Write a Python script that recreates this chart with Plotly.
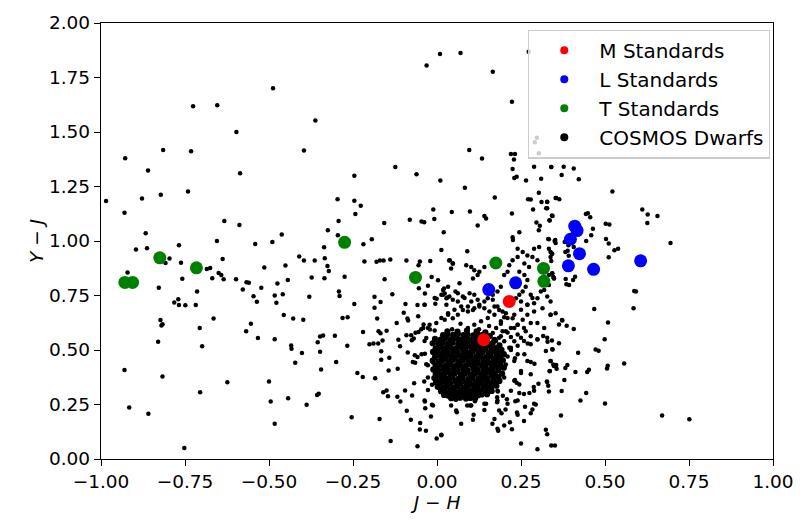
import plotly.graph_objects as go

# ---------------- data ----------------
m_x = [0.215, 0.139]
m_y = [0.723, 0.547]

l_x = [0.154, 0.234, 0.410, 0.417, 0.397, 0.424, 0.391, 0.466, 0.606]
l_y = [0.777, 0.808, 1.068, 1.048, 1.008, 0.942, 0.886, 0.870, 0.909]

t_x = [-0.929, -0.906, -0.825, -0.716, -0.275, -0.064, 0.175, 0.317, 0.318]
t_y = [0.810, 0.810, 0.923, 0.877, 0.994, 0.833, 0.899, 0.874, 0.815]

# COSMOS dwarfs, sparse field (x = J-H, y = Y-J)
cosmos_outer = [
    (-0.488, 1.701), (-0.726, 1.618), (-0.654, 1.623), (-0.597, 1.5), (-0.362, 1.553),
    (-0.928, 1.38), (-0.815, 1.418), (-0.732, 1.412), (-0.396, 1.415), (-0.86, 1.323),
    (-0.586, 1.311), (-0.985, 1.183), (-0.878, 1.195), (-0.822, 1.212), (-0.741, 1.227),
    (-0.93, 1.13), (-0.633, 1.092), (-0.588, 1.073), (-0.867, 1.035), (-0.462, 1.03),
    (-0.325, 1.049), (-0.655, 1.0), (-0.49, 0.995),
    (-0.896, 0.961), (-0.863, 0.967), (-0.768, 0.98), (-0.541, 0.986), (-0.336, 0.971),
    (-0.796, 0.92), (-0.808, 0.899), (-0.762, 0.9), (-0.638, 0.918), (-0.921, 0.856),
    (-0.758, 0.827), (-0.685, 0.871), (-0.675, 0.876), (-0.65, 0.853), (-0.642, 0.844),
    (-0.669, 0.829), (-0.635, 0.824), (-0.598, 0.824), (-0.514, 0.879), (-0.451, 0.888),
    (-0.41, 0.929), (-0.396, 0.911), (-0.364, 0.911), (-0.334, 0.921), (-0.326, 0.885),
    (-0.322, 0.862), (-0.373, 0.833), (-0.335, 0.829), (-0.444, 0.821), (-0.567, 0.811),
    (-0.56, 0.809), (-0.475, 0.805), (-0.828, 0.785), (-0.578, 0.777), (-0.523, 0.785),
    (-0.714, 0.768), (-0.546, 0.747), (-0.536, 0.721), (-0.483, 0.75), (-0.459, 0.756),
    (-0.478, 0.717), (-0.38, 0.744), (-0.782, 0.718), (-0.77, 0.733), (-0.768, 0.706),
    (-0.749, 0.705), (-0.718, 0.706), (-0.823, 0.638), (-0.817, 0.618), (-0.82, 0.612),
    (-0.665, 0.644), (-0.706, 0.601), (-0.699, 0.517), (-0.83, 0.538), (-0.568, 0.586),
    (-0.554, 0.62), (-0.533, 0.555), (-0.483, 0.549), (-0.456, 0.661), (-0.428, 0.645),
    (-0.398, 0.639), (-0.434, 0.521), (-0.433, 0.506), (-0.402, 0.486), (-0.422, 0.442),
    (-0.355, 0.535), (-0.348, 0.562), (-0.339, 0.567), (-0.348, 0.492), (-0.345, 0.411),
    (-0.93, 0.408), (-0.817, 0.379), (-0.624, 0.352), (-0.5, 0.355), (-0.705, 0.306),
    (-0.495, 0.264), (-0.443, 0.279), (-0.388, 0.249), (-0.357, 0.294), (-0.352, 0.299),
    (-0.916, 0.236), (-0.859, 0.208), (-0.483, 0.162), (-0.752, 0.05),
    (0.009, 1.858), (0.07, 1.862), (-0.031, 1.805), (0.166, 1.776), (0.223, 1.639),
    (0.273, 1.868), (0.297, 1.474), (0.291, 1.453), (0.303, 1.403),
    (0.096, 1.418), (0.134, 1.379), (-0.124, 1.34), (-0.246, 1.299), (-0.061, 1.306),
    (0.01, 1.277), (0.083, 1.244), (0.172, 1.2), (0.22, 1.399), (0.232, 1.399),
    (0.229, 1.374), (0.225, 1.33), (0.23, 1.289), (0.237, 1.295), (0.265, 1.277),
    (0.289, 1.341), (0.34, 1.34), (0.31, 1.286), (0.303, 1.221), (0.271, 1.192),
    (0.279, 1.19), (0.311, 1.179), (0.328, 1.179), (0.353, 1.197), (0.286, 1.144),
    (0.325, 1.15), (0.344, 1.115), (0.335, 1.095), (0.296, 1.085), (0.306, 1.07),
    (0.303, 1.049), (0.223, 1.126), (0.245, 1.04), (0.225, 1.017), (0.226, 1.005),
    (0.331, 1.009), (0.352, 1.005), (-0.296, 1.192), (-0.246, 1.185), (-0.227, 1.162),
    (-0.243, 1.124), (-0.293, 1.092), (-0.157, 1.082), (-0.081, 1.097), (-0.046, 1.09),
    (-0.038, 1.086), (-0.011, 1.145), (-0.008, 1.101), (0.044, 1.133), (0.098, 1.135),
    (0.141, 1.115), (0.146, 1.103), (0.121, 1.071), (0.02, 1.04), (-0.295, 1.026),
    (-0.194, 1.008),
    (-0.219, 0.985), (-0.275, 0.836), (-0.216, 0.906), (-0.18, 0.905), (-0.17, 0.911),
    (-0.159, 0.911), (-0.139, 0.915), (-0.156, 0.824), (-0.091, 0.911), (-0.051, 0.906),
    (-0.055, 0.889), (-0.02, 0.908), (-0.016, 0.835), (0.003, 0.82), (0.013, 0.959),
    (0.036, 0.911), (0.047, 0.897), (-0.054, 0.783), (-0.027, 0.795), (-0.036, 0.759),
    (-0.001, 0.735), (-0.005, 0.712), (0.021, 0.782), (0.023, 0.759), (0.031, 0.741),
    (0.028, 0.708), (0.055, 0.768), (-0.292, 0.768), (-0.29, 0.748), (-0.246, 0.711),
    (-0.186, 0.744), (-0.168, 0.72), (-0.186, 0.694), (-0.133, 0.756), (-0.094, 0.711),
    (-0.099, 0.671), (-0.088, 0.644), (-0.086, 0.635), (-0.056, 0.655), (-0.058, 0.706),
    (-0.037, 0.708), (-0.281, 0.647), (-0.266, 0.65), (-0.178, 0.644), (-0.12, 0.624),
    (-0.22, 0.582), (-0.174, 0.586), (-0.168, 0.577), (-0.15, 0.588), (-0.304, 0.565),
    (-0.267, 0.52), (-0.201, 0.526), (-0.189, 0.53), (-0.175, 0.53), (-0.162, 0.544),
    (-0.166, 0.494), (-0.11, 0.517), (-0.115, 0.547), (-0.091, 0.568), (-0.077, 0.568),
    (-0.069, 0.553), (-0.075, 0.545), (-0.064, 0.579), (-0.055, 0.583), (-0.047, 0.595),
    (-0.04, 0.617), (-0.027, 0.601), (-0.021, 0.594), (-0.007, 0.589), (-0.032, 0.555),
    (-0.087, 0.489), (-0.066, 0.476), (-0.058, 0.468), (-0.036, 0.483), (-0.166, 0.455),
    (-0.142, 0.465), (-0.072, 0.445), (-0.065, 0.441), (-0.027, 0.43), (-0.011, 0.442),
    (-0.3, 0.445), (-0.144, 0.406), (-0.117, 0.414), (-0.237, 0.394), (-0.221, 0.376),
    (-0.184, 0.37), (-0.068, 0.348), (-0.038, 0.356), (-0.027, 0.317), (-0.015, 0.341),
    (-0.16, 0.306), (-0.15, 0.314), (-0.146, 0.288), (-0.118, 0.285), (-0.109, 0.264),
    (-0.095, 0.314), (-0.074, 0.291), (-0.036, 0.264), (-0.09, 0.221), (-0.035, 0.233),
    (-0.015, 0.249), (-0.018, 0.195), (-0.078, 0.18), (-0.254, 0.192), (-0.171, 0.183),
    (-0.05, 0.165), (-0.051, 0.135), (-0.033, 0.13), (-0.001, 0.094), (0.013, 0.111),
    (-0.138, 0.082), (-0.058, 0.058),
    (0.09, 0.953), (0.24, 0.965), (0.255, 0.95), (0.289, 0.965), (0.304, 0.972),
    (0.269, 0.934), (0.284, 0.927), (0.24, 0.927), (0.225, 0.912), (0.215, 0.889),
    (0.26, 0.897), (0.274, 0.881), (0.299, 0.912), (0.338, 0.927), (0.343, 0.942),
    (0.038, 0.912), (0.047, 0.897), (0.042, 0.874), (0.087, 0.889), (0.102, 0.881),
    (0.111, 0.866), (0.126, 0.859), (0.141, 0.881), (0.121, 0.844), (0.107, 0.828),
    (0.067, 0.806), (0.033, 0.79), (0.018, 0.775), (0.013, 0.753), (0.028, 0.737),
    (0.047, 0.73), (0.062, 0.722), (0.077, 0.745), (0.097, 0.76), (0.111, 0.753),
    (0.121, 0.73), (0.151, 0.737), (0.166, 0.753), (0.18, 0.768), (0.19, 0.79),
    (0.2, 0.844), (0.21, 0.859), (0.245, 0.859), (0.26, 0.844), (0.269, 0.821),
    (0.264, 0.79), (0.255, 0.768), (0.245, 0.753), (0.235, 0.737), (0.25, 0.722),
    (0.269, 0.707), (0.289, 0.715), (0.299, 0.737), (0.279, 0.753), (0.309, 0.768),
    (0.333, 0.844), (0.343, 0.851), (0.348, 0.828), (0.333, 0.798), (0.319, 0.775),
    (0.328, 0.745), (0.338, 0.722), (0.314, 0.692), (0.289, 0.677), (0.269, 0.662),
    (0.255, 0.639), (0.24, 0.616), (0.225, 0.646), (0.205, 0.669), (0.185, 0.684),
    (0.171, 0.7), (0.156, 0.677), (0.141, 0.692), (0.126, 0.7), (0.107, 0.684),
    (0.092, 0.7), (0.077, 0.684), (0.062, 0.662), (0.047, 0.646), (0.033, 0.669),
    (0.023, 0.639), (0.299, 0.624), (0.319, 0.601), (0.338, 0.662), (0.353, 0.669),
    (0.328, 0.556), (0.299, 0.548), (0.343, 0.503), (0.324, 0.495), (0.279, 0.563),
    (0.264, 0.586), (0.25, 0.556), (0.23, 0.54), (0.215, 0.51), (0.195, 0.586),
    (0.176, 0.601), (0.166, 0.578), (0.185, 0.556), (0.2, 0.54), (0.23, 0.601),
    (0.21, 0.47), (0.22, 0.5), (0.24, 0.52), (0.26, 0.48), (0.27, 0.53), (0.23, 0.45),
    (0.21, 0.58), (0.19, 0.62), (0.2, 0.65), (0.22, 0.56),
    (0.232, 0.462), (0.279, 0.445), (0.29, 0.437), (0.338, 0.45), (0.348, 0.427),
    (0.336, 0.404), (0.205, 0.434), (0.25, 0.395), (0.232, 0.362), (0.237, 0.35),
    (0.245, 0.342), (0.302, 0.345), (0.288, 0.33), (0.275, 0.303), (0.245, 0.303),
    (0.328, 0.353), (0.331, 0.336), (0.333, 0.31), (0.181, 0.31), (0.179, 0.283),
    (0.179, 0.26), (0.196, 0.29), (0.208, 0.274), (0.233, 0.265), (0.289, 0.253),
    (0.294, 0.25), (0.262, 0.24), (0.284, 0.227), (0.279, 0.21), (0.238, 0.213),
    (0.24, 0.203), (0.259, 0.174), (0.146, 0.253), (0.141, 0.225), (0.113, 0.265),
    (0.099, 0.245), (0.09, 0.245), (0.109, 0.203), (0.107, 0.18), (0.057, 0.222),
    (0.059, 0.215), (0.072, 0.162), (0.185, 0.222), (0.204, 0.227), (0.192, 0.21),
    (0.171, 0.184), (0.165, 0.162), (0.18, 0.139), (0.182, 0.13), (0.217, 0.169),
    (0.2, 0.154), (0.223, 0.136), (0.324, 0.134), (0.328, 0.113), (0.25, 0.071),
    (0.299, 0.045), (0.34, 0.062), (0.351, 0.062), (0.013, 0.109),
    (0.34, 1.339), (0.377, 1.341), (0.407, 1.332), (0.371, 1.303), (0.422, 1.283),
    (0.522, 1.227), (0.355, 1.197), (0.364, 1.192), (0.328, 1.18), (0.328, 1.15),
    (0.342, 1.117), (0.335, 1.094), (0.443, 1.124), (0.449, 1.127), (0.456, 1.109),
    (0.464, 1.056), (0.502, 1.079), (0.513, 1.076), (0.611, 1.144), (0.627, 1.121),
    (0.656, 1.115), (0.626, 1.082), (0.695, 0.991), (0.333, 1.008), (0.35, 1.0),
    (0.353, 0.991), (0.38, 0.995), (0.391, 0.98), (0.407, 0.973), (0.444, 1.0),
    (0.459, 1.026), (0.503, 1.009), (0.511, 0.988), (0.528, 0.958), (0.539, 0.965),
    (0.511, 0.926), (0.333, 0.965), (0.338, 0.95), (0.342, 0.941), (0.34, 0.908),
    (0.382, 0.95), (0.389, 0.955), (0.392, 0.932), (0.343, 0.852), (0.346, 0.836),
    (0.348, 0.829), (0.383, 0.826), (0.385, 0.802), (0.393, 0.798), (0.405, 0.821),
    (0.411, 0.836), (0.587, 0.771), (0.592, 0.768), (0.468, 0.688), (0.585, 0.692),
    (0.338, 0.662), (0.372, 0.638),
    (0.509, 0.626), (0.363, 0.617), (0.373, 0.635), (0.386, 0.611), (0.407, 0.596),
    (0.299, 0.549), (0.316, 0.564), (0.329, 0.538), (0.342, 0.544), (0.363, 0.531),
    (0.344, 0.502), (0.499, 0.549), (0.42, 0.487), (0.472, 0.502), (0.481, 0.497),
    (0.338, 0.449), (0.346, 0.434), (0.355, 0.431), (0.356, 0.414), (0.335, 0.403),
    (0.382, 0.418), (0.388, 0.431), (0.412, 0.399), (0.447, 0.399), (0.452, 0.409),
    (0.508, 0.428), (0.506, 0.415), (0.557, 0.438), (0.327, 0.356), (0.379, 0.362),
    (0.371, 0.312), (0.444, 0.303), (0.427, 0.268), (0.5, 0.255), (0.369, 0.2),
    (0.67, 0.2), (0.751, 0.182),
    (-0.037, 0.707), (-0.007, 0.738), (0.018, 0.753), (0.037, 0.745), (0.062, 0.76),
    (0.082, 0.738), (0.102, 0.723), (0.072, 0.7), (0.052, 0.685), (0.033, 0.662),
    (0.013, 0.647), (-0.002, 0.624), (-0.022, 0.616), (-0.041, 0.601), (0.092, 0.677),
    (0.111, 0.692), (0.126, 0.707), (0.141, 0.723), (0.166, 0.73), (0.18, 0.7),
    (0.195, 0.677), (0.171, 0.662), (0.151, 0.647), (0.131, 0.632), (0.111, 0.616),
    (0.092, 0.601), (0.19, 0.632), (0.21, 0.647), (0.23, 0.662), (0.25, 0.685),
    (0.269, 0.707), (0.284, 0.738), (0.24, 0.616), (0.259, 0.601), (0.279, 0.624),
    (0.22, 0.601), (0.205, 0.586), (0.19, 0.563), (0.176, 0.541), (0.24, 0.571),
    (0.259, 0.541), (0.279, 0.526), (0.22, 0.51), (0.2, 0.48), (0.24, 0.48),
    (0.269, 0.45), (0.25, 0.404), (0.23, 0.359), (0.279, 0.389), (0.289, 0.313),
    (0.259, 0.298), (0.24, 0.268), (0.21, 0.253), (0.18, 0.313), (0.2, 0.374),
    (-0.037, 0.541), (-0.046, 0.48), (-0.032, 0.435), (-0.027, 0.374), (-0.037, 0.268),
    (-0.012, 0.245), (0.042, 0.245), (0.102, 0.245), (0.141, 0.253), (0.18, 0.268),
    (0.22, 0.313), (0.045, 0.595), (0.07, 0.62), (0.125, 0.595), (0.155, 0.61),
]

# COSMOS dwarfs, dense clump near J-H ~ 0.09, Y-J ~ 0.42 (rows read bottom to top)
cosmos_core = [
    (0.042, 0.279), (0.056, 0.276), (0.069, 0.281), (0.086, 0.277), (0.099, 0.280), (0.113, 0.276),
    (0.021, 0.294), (0.033, 0.291), (0.048, 0.296), (0.063, 0.292), (0.076, 0.295), (0.093, 0.291),
    (0.106, 0.294), (0.122, 0.292), (0.133, 0.296), (0.149, 0.297),
    (0.012, 0.311), (0.026, 0.308), (0.041, 0.313), (0.054, 0.309), (0.071, 0.312), (0.084, 0.308),
    (0.101, 0.311), (0.114, 0.309), (0.131, 0.313), (0.146, 0.308), (0.163, 0.312),
    (0.002, 0.331), (0.018, 0.328), (0.031, 0.333), (0.048, 0.329), (0.061, 0.332), (0.078, 0.328),
    (0.091, 0.331), (0.108, 0.334), (0.121, 0.329), (0.138, 0.331), (0.151, 0.328), (0.163, 0.333),
    (0.177, 0.336),
    (-0.003, 0.351), (0.011, 0.348), (0.026, 0.352), (0.039, 0.349), (0.056, 0.353), (0.069, 0.348),
    (0.086, 0.351), (0.099, 0.347), (0.116, 0.352), (0.129, 0.349), (0.146, 0.351), (0.161, 0.348),
    (0.172, 0.353), (0.186, 0.358),
    (-0.008, 0.371), (0.004, 0.368), (0.018, 0.372), (0.033, 0.369), (0.046, 0.373), (0.063, 0.368),
    (0.076, 0.371), (0.093, 0.367), (0.106, 0.372), (0.123, 0.369), (0.138, 0.371), (0.151, 0.368),
    (0.168, 0.372), (0.183, 0.376),
    (-0.004, 0.391), (0.011, 0.388), (0.024, 0.392), (0.041, 0.389), (0.054, 0.393), (0.071, 0.388),
    (0.084, 0.391), (0.101, 0.387), (0.114, 0.392), (0.131, 0.389), (0.144, 0.391), (0.161, 0.388),
    (0.174, 0.392), (0.194, 0.392),
    (-0.011, 0.411), (0.003, 0.408), (0.019, 0.412), (0.032, 0.409), (0.048, 0.413), (0.061, 0.408),
    (0.078, 0.411), (0.091, 0.407), (0.108, 0.412), (0.121, 0.409), (0.138, 0.411), (0.153, 0.408),
    (0.166, 0.412), (0.183, 0.409), (0.199, 0.419),
    (-0.004, 0.428), (0.009, 0.432), (0.026, 0.429), (0.039, 0.433), (0.056, 0.428),
    (0.069, 0.431), (0.086, 0.427), (0.101, 0.432), (0.114, 0.429), (0.131, 0.431), (0.144, 0.428),
    (0.161, 0.432), (0.174, 0.429), (0.189, 0.431),
    (-0.013, 0.451), (0.004, 0.448), (0.016, 0.452), (0.033, 0.449), (0.046, 0.453), (0.063, 0.448),
    (0.076, 0.451), (0.093, 0.447), (0.108, 0.452), (0.121, 0.449), (0.138, 0.451), (0.151, 0.448),
    (0.168, 0.452), (0.181, 0.449), (0.196, 0.452),
    (-0.006, 0.468), (0.011, 0.472), (0.024, 0.469), (0.041, 0.473), (0.054, 0.468),
    (0.071, 0.471), (0.086, 0.467), (0.099, 0.472), (0.116, 0.469), (0.129, 0.471), (0.146, 0.468),
    (0.159, 0.472), (0.176, 0.469), (0.189, 0.471),
    (-0.012, 0.491), (0.003, 0.488), (0.019, 0.492), (0.031, 0.489), (0.048, 0.493), (0.061, 0.488),
    (0.078, 0.491), (0.093, 0.487), (0.106, 0.492), (0.123, 0.489), (0.136, 0.491), (0.153, 0.488),
    (0.168, 0.492), (0.181, 0.489), (0.199, 0.481), (0.192, 0.501),
    (-0.004, 0.508), (0.009, 0.512), (0.026, 0.509), (0.039, 0.513), (0.056, 0.508),
    (0.071, 0.511), (0.084, 0.507), (0.101, 0.512), (0.114, 0.509), (0.131, 0.511), (0.144, 0.508),
    (0.161, 0.512), (0.176, 0.509), (0.186, 0.521),
    (-0.013, 0.531), (0.004, 0.528), (0.016, 0.532), (0.033, 0.529), (0.046, 0.533), (0.063, 0.528),
    (0.078, 0.531), (0.091, 0.527), (0.108, 0.532), (0.123, 0.529), (0.136, 0.531), (0.153, 0.528),
    (0.166, 0.532), (0.171, 0.546),
    (-0.006, 0.551), (0.011, 0.548), (0.024, 0.552), (0.041, 0.549), (0.056, 0.553), (0.069, 0.548),
    (0.086, 0.551), (0.099, 0.547), (0.116, 0.552), (0.129, 0.549), (0.146, 0.551), (0.157, 0.564),
    (0.018, 0.568), (0.031, 0.572), (0.048, 0.569), (0.062, 0.573), (0.079, 0.568),
    (0.091, 0.571), (0.108, 0.567), (0.121, 0.572), (0.136, 0.569), (0.144, 0.581),
    (0.031, 0.586), (0.061, 0.584), (0.089, 0.589), (0.118, 0.586),
]

x_ticks = [-1.0, -0.75, -0.5, -0.25, 0.0, 0.25, 0.5, 0.75, 1.0]
y_ticks = [0.0, 0.25, 0.5, 0.75, 1.0, 1.25, 1.5, 1.75, 2.0]

series_names = ["M Standards", "L Standards", "T Standards", "COSMOS Dwarfs"]
series_colors = ["red", "blue", "green", "black"]

# ---------------- figure ----------------
outer_x = [p[0] for p in cosmos_outer]
outer_y = [p[1] for p in cosmos_outer]
core_x = [p[0] for p in cosmos_core]
core_y = [p[1] for p in cosmos_core]

FONT = "DejaVu Sans, Verdana, sans-serif"
fig = go.Figure()

# the clump is so crowded that overlapping dots merge into a solid patch
fig.add_trace(go.Scatter(x=core_x, y=core_y, mode="markers", showlegend=False,
                         marker=dict(color="black", size=6.2, line=dict(width=0))))
fig.add_trace(go.Scatter(x=outer_x, y=outer_y, mode="markers", showlegend=False,
                         marker=dict(color="black", size=4.5, line=dict(width=0))))
for xs, ys, col in [(m_x, m_y, "red"), (l_x, l_y, "blue"), (t_x, t_y, "green")]:
    fig.add_trace(go.Scatter(x=xs, y=ys, mode="markers", showlegend=False,
                             marker=dict(color=col, size=13, line=dict(width=0))))

# legend entries
for name, col in zip(series_names, series_colors):
    fig.add_trace(go.Scatter(x=[None], y=[None], mode="markers", name=name,
                             marker=dict(color=col, size=8, line=dict(width=0))))

axis_common = dict(
    showgrid=False, zeroline=False, showline=True, linecolor="black", linewidth=1.3,
    mirror=True, ticks="outside", ticklen=6, tickwidth=1.3, tickcolor="black",
    tickfont=dict(family=FONT, size=18.5, color="black"), tickformat=".2f",
)

fig.update_layout(
    width=806, height=520,
    margin=dict(l=101, r=33, t=19, b=61),
    paper_bgcolor="white", plot_bgcolor="white",
    font=dict(family=FONT, size=18.5, color="black"),
    xaxis=dict(range=[-1, 1], tickvals=x_ticks,
               title=dict(text="<i>J</i> − <i>H</i>", standoff=2,
                          font=dict(family=FONT, size=18.5, color="black")),
               **axis_common),
    yaxis=dict(range=[0, 2], tickvals=y_ticks,
               title=dict(text="<i>Y</i> − <i>J</i>", standoff=0,
                          font=dict(family=FONT, size=18.5, color="black")),
               **axis_common),
    legend=dict(x=0.9955, y=0.985, xanchor="right", yanchor="top",
                bgcolor="rgba(255,255,255,0.8)", bordercolor="#cccccc", borderwidth=1.3,
                font=dict(family=FONT, size=20, color="black"),
                itemwidth=60, tracegroupgap=0),
    showlegend=True,
)

fig.write_html("out.html", config={"displayModeBar": False},
               post_script="document.body.style.margin='0px';")
